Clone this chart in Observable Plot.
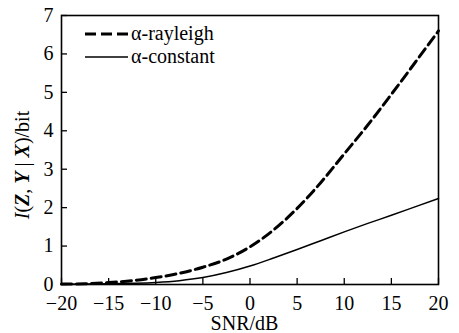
<!DOCTYPE html>
<html>
<head>
<meta charset="utf-8">
<script src="https://cdn.jsdelivr.net/npm/d3@7"></script>
<script src="https://cdn.jsdelivr.net/npm/@observablehq/plot@0.6"></script>
<style>
  html, body { margin: 0; padding: 0; background: white; }
  #chart { width: 459px; height: 333px; }
  #chart svg text { font-family: "Liberation Serif", "Times New Roman", serif !important; font-size: 20px; fill: black; }
</style>
</head>
<body>
<div id="chart"></div>
<script>
const snr = [-20, -17.5, -15, -12.5, -10, -7.5, -5, -2.5, 0, 2.5, 5, 7.5, 10, 12.5, 15, 17.5, 20];
const rayleighValues = [0.01, 0.02, 0.05, 0.1, 0.18, 0.29, 0.45, 0.66, 0.98, 1.42, 1.98, 2.65, 3.4, 4.15, 4.95, 5.77, 6.6];
const constantValues = [0.005, 0.01, 0.02, 0.033, 0.055, 0.1, 0.18, 0.31, 0.48, 0.69, 0.91, 1.14, 1.37, 1.59, 1.8, 2.02, 2.24];
const seriesNames = ["α-rayleigh", "α-constant"];
const xTicks = [-20, -15, -10, -5, 0, 5, 10, 15, 20];
const yTicks = [0, 1, 2, 3, 4, 5, 6, 7];
const xLabel = "SNR/dB";

const rayleigh = snr.map((x, i) => ({x, y: rayleighValues[i]}));
const constant = snr.map((x, i) => ({x, y: constantValues[i]}));

const W = 459, H = 333, mL = 61, mR = 21, mT = 15, mB = 49;
const plotW = W - mL - mR, plotH = H - mT - mB;
const font = "Liberation Serif, Times New Roman, serif";

const plot = Plot.plot({
  width: W, height: H,
  marginLeft: mL, marginRight: mR, marginTop: mT, marginBottom: mB,
  style: {background: "white", color: "black", overflow: "visible"},
  x: {domain: [-20, 20]},
  y: {domain: [0, 7]},
  marks: [
    Plot.axisX({ticks: xTicks, tickSize: 0, tickPadding: 11, label: null,
      tickFormat: d => d < 0 ? "\u2212" + Math.abs(d) : String(d)}),
    Plot.axisY({ticks: yTicks, tickSize: 0, tickPadding: 8, label: null, tickFormat: d => String(d)}),
    Plot.tickX(xTicks, {x: d => d, insetTop: plotH - 6, strokeWidth: 1.3}),
    Plot.tickY(yTicks, {y: d => d, insetRight: plotW - 6, strokeWidth: 1.3}),
    Plot.line(constant, {x: "x", y: "y", stroke: "black", strokeWidth: 1.5, curve: "monotone-x"}),
    Plot.line(rayleigh, {x: "x", y: "y", stroke: "black", strokeWidth: 3, strokeDasharray: "10,5", curve: "monotone-x"}),
    Plot.frame({stroke: "black", strokeWidth: 1.6})
  ]
});

const svg = d3.select(plot);
// x axis label
svg.append("text")
  .attr("x", mL + plotW / 2 - 5).attr("y", 330)
  .attr("text-anchor", "middle")
  .attr("font-family", font).attr("font-size", 20).attr("fill", "black")
  .text(xLabel);

// y axis label with mixed styles
const yl = svg.append("text")
  .attr("transform", "translate(29,165) rotate(-90)")
  .attr("text-anchor", "middle")
  .attr("font-family", font).attr("font-size", 20).attr("fill", "black");
[["I", "italic", "normal"], ["(", "normal", "normal"], ["Z", "italic", "bold"], [", ", "normal", "normal"],
 ["Y", "italic", "bold"], [" | ", "normal", "normal"], ["X", "italic", "bold"], [")/bit", "normal", "normal"]]
  .forEach(([t, st, wt]) => yl.append("tspan").attr("font-style", st).attr("font-weight", wt).text(t));

// legend
const lg = svg.append("g");
lg.append("line").attr("x1", 85).attr("x2", 128).attr("y1", 34).attr("y2", 34)
  .attr("stroke", "black").attr("stroke-width", 3).attr("stroke-dasharray", "11,5");
lg.append("line").attr("x1", 85).attr("x2", 128).attr("y1", 57).attr("y2", 57)
  .attr("stroke", "black").attr("stroke-width", 1.5);
lg.append("text").attr("x", 131).attr("y", 40).attr("text-anchor", "start").attr("font-family", font).attr("font-size", 20)
  .attr("fill", "black").text(seriesNames[0]);
lg.append("text").attr("x", 131).attr("y", 63).attr("text-anchor", "start").attr("font-family", font).attr("font-size", 20)
  .attr("fill", "black").text(seriesNames[1]);

document.getElementById("chart").appendChild(plot);
</script>
</body>
</html>
